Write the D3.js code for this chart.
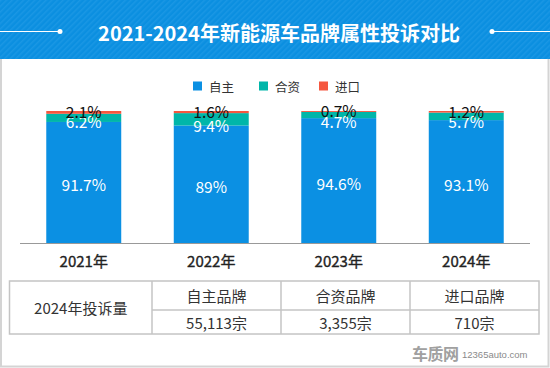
<!DOCTYPE html>
<html><head><meta charset="utf-8">
<script src="https://cdn.jsdelivr.net/npm/d3@7/dist/d3.min.js"></script>
<style>
html,body{margin:0;padding:0;background:#fff;}
svg{display:block;font-family:"Noto Sans CJK SC","Noto Sans",sans-serif;}
</style></head>
<body><svg id="c" width="550" height="368"></svg>
<script>
const title = "2021-2024年新能源车品牌属性投诉对比";
const years = ["2021年", "2022年", "2023年", "2024年"];
const seriesNames = ["自主", "合资", "进口"];
const domestic = [91.7, 89, 94.6, 93.1];
const jointVenture = [6.2, 9.4, 4.7, 5.7];
const imported = [2.1, 1.6, 0.7, 1.2];
const colors = ["#0b90e3", "#00b6a9", "#f5573f"];
const tableRowLabel = "2024年投诉量";
const tableHeaders = ["自主品牌", "合资品牌", "进口品牌"];
const tableCounts = ["55,113宗", "3,355宗", "710宗"];

const svg = d3.select("#c");
const W = 550, H = 368;

// frame
svg.append("rect").attr("x", 1).attr("y", 40).attr("width", 547.5).attr("height", 326.5)
  .attr("fill", "#fff").attr("stroke", "#d4d4d4").attr("stroke-width", 2);

// header with stripes
const defs = svg.append("defs");
const pat = defs.append("pattern").attr("id", "stripes").attr("patternUnits", "userSpaceOnUse")
  .attr("width", 4).attr("height", 4).attr("patternTransform", "rotate(45)");
pat.append("rect").attr("width", 4).attr("height", 4).attr("fill", "#0b8fe0");
pat.append("rect").attr("width", 1.5).attr("height", 4).attr("fill", "#1a97e4");
svg.append("rect").attr("x", 0).attr("y", 0).attr("width", W).attr("height", 59).attr("fill", "url(#stripes)");
svg.append("line").attr("x1", 0).attr("x2", 58).attr("y1", 31.5).attr("y2", 31.5).attr("stroke", "#fff").attr("stroke-width", 1);
svg.append("circle").attr("cx", 60).attr("cy", 31.5).attr("r", 2.5).attr("fill", "#fff");
svg.append("line").attr("x1", 494).attr("x2", 550).attr("y1", 31.5).attr("y2", 31.5).attr("stroke", "#fff").attr("stroke-width", 1);
svg.append("circle").attr("cx", 492).attr("cy", 31.5).attr("r", 2.5).attr("fill", "#fff");
svg.append("text").attr("x", 279).attr("y", 32).attr("text-anchor", "middle").attr("dominant-baseline", "central")
  .attr("fill", "#fff").attr("font-size", 20).attr("font-weight", "bold").text(title);

// legend
const legendX = [193, 259, 319];
seriesNames.forEach((n, i) => {
  svg.append("rect").attr("x", legendX[i]).attr("y", 81.5).attr("width", 9).attr("height", 9).attr("fill", colors[i]);
  svg.append("text").attr("x", legendX[i] + 16).attr("y", 86.5).attr("dominant-baseline", "central")
    .attr("font-size", 12.5).attr("fill", "#333").text(n);
});

// scales
const x = d3.scaleBand().domain(years).range([20, 530]).paddingInner(0.412).paddingOuter(0.206);
const y = d3.scaleLinear().domain([0, 100]).range([243, 111]);

const data = years.map((yr, i) => ({ yr, vals: [domestic[i], jointVenture[i], imported[i]] }));
const stack = d3.stack().keys([0, 1, 2]).value((d, k) => d.vals[k]);
const series = stack(data);

series.forEach((s, k) => {
  svg.append("g").selectAll("rect").data(s).join("rect")
    .attr("x", d => x(d.data.yr)).attr("width", x.bandwidth())
    .attr("y", d => y(d[1])).attr("height", d => y(d[0]) - y(d[1]))
    .attr("fill", colors[k]);
});

// axis
const axisG = svg.append("g").attr("transform", "translate(0,243)")
  .call(d3.axisBottom(x).tickSize(0).tickPadding(13));
axisG.select(".domain").attr("stroke", "#999").attr("d", "M20,0.5H530");
axisG.selectAll("text").attr("font-size", 15).attr("fill", "#222")
  .attr("font-family", '"Noto Sans CJK SC",sans-serif').attr("font-weight", "normal")
  .attr("stroke", "#222").attr("stroke-width", 0.35);

// labels
const lab = svg.append("g").attr("font-size", 15.5).attr("text-anchor", "middle").attr("dominant-baseline", "central");
data.forEach((d, i) => {
  const cx = x(d.yr) + x.bandwidth() / 2;
  const s0 = series[0][i], s1 = series[1][i], s2 = series[2][i];
  const blueY = (y(s0[0]) + y(s0[1])) / 2 + 2;
  const tealBottom = y(s1[0]);
  const tealY = Math.max(tealBottom - 0.5, y(100) + 10);
  const redY = Math.min((y(s2[0]) + y(s2[1])) / 2 - 1, tealY - 10);
  lab.append("text").attr("x", cx).attr("y", blueY).attr("fill", "#fff").text(d.vals[0] + "%");
  lab.append("text").attr("x", cx).attr("y", tealY).attr("fill", "#fff").text(d.vals[1] + "%");
  lab.append("text").attr("x", cx).attr("y", redY).attr("fill", "#111").text(d.vals[2] + "%");
});

// table
const colX = [9.5, 152, 281, 410, 539];
const rowY = [281, 310, 334];
const tg = svg.append("g").attr("stroke", "#c4c4c4").attr("stroke-width", 1.5).attr("fill", "none");
tg.append("rect").attr("x", colX[0]).attr("y", rowY[0]).attr("width", colX[4] - colX[0]).attr("height", rowY[2] - rowY[0]);
colX.slice(1, 4).forEach(cx => tg.append("line").attr("x1", cx).attr("x2", cx).attr("y1", rowY[0]).attr("y2", rowY[2]));
tg.append("line").attr("x1", colX[1]).attr("x2", colX[4]).attr("y1", rowY[1]).attr("y2", rowY[1]);
const tt = svg.append("g").attr("font-size", 15).attr("fill", "#333").attr("text-anchor", "middle").attr("dominant-baseline", "central");
tt.append("text").attr("x", (colX[0] + colX[1]) / 2).attr("y", (rowY[0] + rowY[2]) / 2).text(tableRowLabel);
tableHeaders.forEach((h, i) => {
  tt.append("text").attr("x", (colX[i + 1] + colX[i + 2]) / 2).attr("y", (rowY[0] + rowY[1]) / 2).text(h);
  tt.append("text").attr("x", (colX[i + 1] + colX[i + 2]) / 2).attr("y", (rowY[1] + rowY[2]) / 2 + 0.5).text(tableCounts[i]);
});

// watermark
svg.append("text").attr("x", 412).attr("y", 353).attr("dominant-baseline", "central")
  .attr("font-size", 16).attr("font-weight", "bold").attr("fill", "#a0a0a0").attr("letter-spacing", -0.5).text("车质网");
svg.append("text").attr("x", 462).attr("y", 354).attr("dominant-baseline", "central")
  .attr("font-size", 9.5).attr("fill", "#8a8a8a").attr("font-family", "Liberation Sans, Arial, sans-serif").text("12365auto.com");
</script></body></html>
